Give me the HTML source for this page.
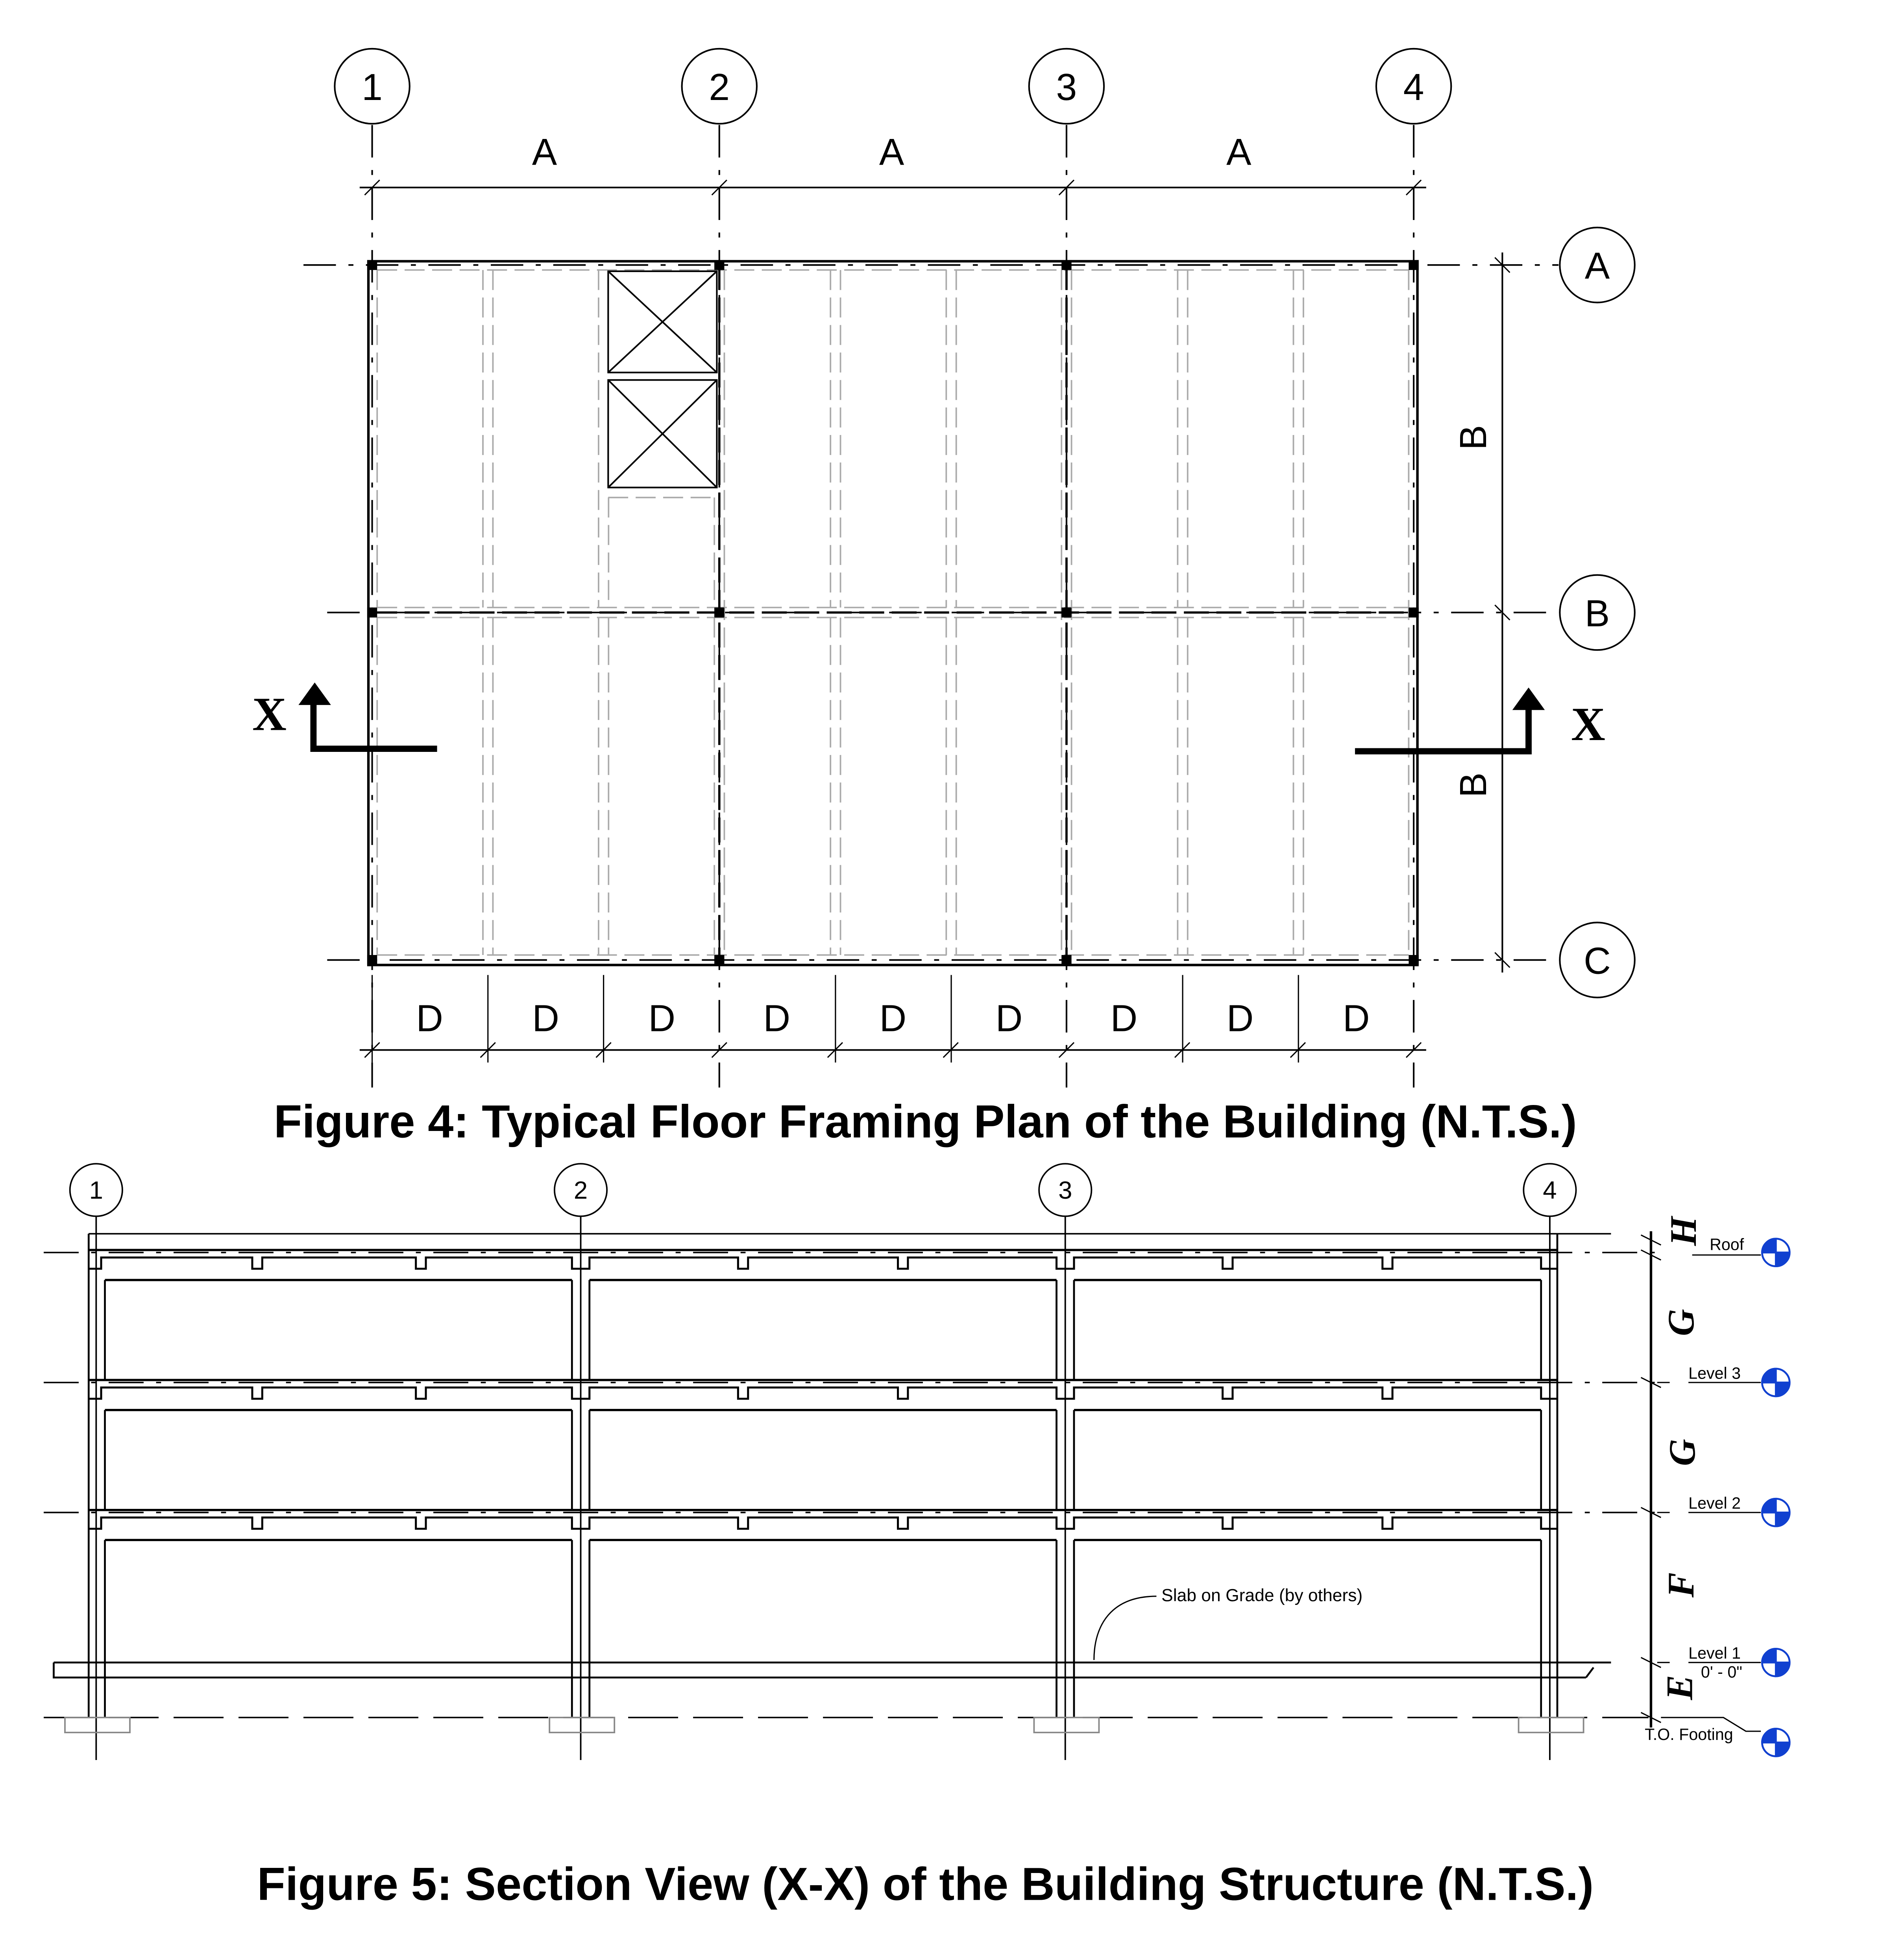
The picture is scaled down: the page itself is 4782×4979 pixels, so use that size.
<!DOCTYPE html>
<html><head><meta charset="utf-8"><style>html,body{margin:0;padding:0;background:#fff}svg{display:block}</style></head>
<body>
<svg xmlns="http://www.w3.org/2000/svg" width="4782" height="4979" viewBox="0 0 1507 1568" preserveAspectRatio="none" font-family="Liberation Sans, sans-serif">
<rect width="1507" height="1568" fill="#fff"/>
<!-- ============ PLAN ============ -->
<g stroke="#000" fill="none" stroke-width="1.3">
 <circle cx="298" cy="69" r="30"/><circle cx="576" cy="69" r="30"/><circle cx="854" cy="69" r="30"/><circle cx="1132" cy="69" r="30"/>
 <circle cx="1279" cy="212" r="30"/><circle cx="1279" cy="490" r="30"/><circle cx="1279" cy="768" r="30"/>
 <g stroke-dasharray="26 10 4 10">
  <line x1="298" y1="100" x2="298" y2="870"/><line x1="576" y1="100" x2="576" y2="870"/>
  <line x1="854" y1="100" x2="854" y2="870"/><line x1="1132" y1="100" x2="1132" y2="870"/>
  <line x1="243" y1="212" x2="1248" y2="212"/><line x1="262" y1="490" x2="1248" y2="490"/><line x1="262" y1="768" x2="1248" y2="768"/>
 </g>
 <line x1="288" y1="150" x2="1142" y2="150"/>
 <g stroke-width="1"><path d="M292 156 L304 144 M570 156 L582 144 M848 156 L860 144 M1126 156 L1138 144"/></g>
 <line x1="1203" y1="202" x2="1203" y2="778"/>
 <path d="M1197 206 L1209 218 M1197 484 L1209 496 M1197 762 L1209 774" stroke-width="1"/>
 <line x1="288" y1="840" x2="1142" y2="840"/>
 <path d="M292 846 L304 834 M384.7 846 L396.7 834 M477.3 846 L489.3 834 M570 846 L582 834 M662.7 846 L674.7 834 M755.3 846 L767.3 834 M848 846 L860 834 M940.7 846 L952.7 834 M1033.3 846 L1045.3 834 M1126 846 L1138 834" stroke-width="1"/>
 <path d="M298 780 V850 M390.7 780 V850 M483.3 780 V850 M669 780 V850 M761.7 780 V850 M947 780 V850 M1039.7 780 V850" stroke-width="1"/>
</g>
<g stroke="#aaa" fill="none" stroke-width="1.2" stroke-dasharray="16 6">
 <path d="M386.7 216 V486 M394.7 216 V486 M386.7 494 V764 M394.7 494 V764"/>
 <path d="M479.3 216 V486 M487.3 398 V486 M479.3 494 V764 M487.3 494 V764"/>
 <path d="M665 216 V486 M673 216 V486 M665 494 V764 M673 494 V764"/>
 <path d="M757.7 216 V486 M765.7 216 V486 M757.7 494 V764 M765.7 494 V764"/>
 <path d="M943 216 V486 M951 216 V486 M943 494 V764 M951 494 V764"/>
 <path d="M1035.7 216 V486 M1043.7 216 V486 M1035.7 494 V764 M1043.7 494 V764"/>
 <path d="M302 216 V486 M302 494 V764 M572 398 V486 M572 494 V764 M580 216 V764 M850 216 V764 M858 216 V764 M1128 216 V764"/>
 <path d="M302 216 H1128 M302 486 H1128 M302 494 H1128 M302 764 H1128 M487 398 H572"/>
</g>
<g stroke="#000" fill="none" stroke-width="1.8">
 <rect x="295" y="209" width="840" height="563" stroke-width="2"/>
 <line x1="298" y1="490" x2="1132" y2="490" stroke-dasharray="20 6"/>
 <line x1="576" y1="212" x2="576" y2="768" stroke-dasharray="20 6"/>
 <line x1="854" y1="212" x2="854" y2="768" stroke-dasharray="20 6"/>
</g>
<g fill="#000">
 <rect x="294" y="208" width="8" height="8"/><rect x="572" y="208" width="8" height="8"/><rect x="850" y="208" width="8" height="8"/><rect x="1128" y="208" width="8" height="8"/>
 <rect x="294" y="486" width="8" height="8"/><rect x="572" y="486" width="8" height="8"/><rect x="850" y="486" width="8" height="8"/><rect x="1128" y="486" width="8" height="8"/>
 <rect x="294" y="764" width="8" height="8"/><rect x="572" y="764" width="8" height="8"/><rect x="850" y="764" width="8" height="8"/><rect x="1128" y="764" width="8" height="8"/>
</g>
<g stroke="#000" fill="#fff" stroke-width="1.3">
 <rect x="487" y="217" width="87" height="81"/><path d="M487 217 L574 298 M574 217 L487 298"/>
 <rect x="487" y="304" width="87" height="86"/><path d="M487 304 L574 390 M574 304 L487 390"/>
</g>
<g stroke="#000" fill="none" stroke-width="5">
 <path d="M350 599 H251 V562"/><path d="M1085 601 H1224 V566"/>
</g>
<path d="M239 564 L252 546 L265 564 Z M1211 568 L1224 550 L1237 568 Z" fill="#000"/>
<g font-family="Liberation Serif, serif" font-weight="bold" font-size="38" fill="#000">
 <text x="202" y="584">X</text><text x="1258" y="592">X</text>
</g>
<g font-size="30" fill="#000" text-anchor="middle">
 <text x="298" y="80">1</text><text x="576" y="80">2</text><text x="854" y="80">3</text><text x="1132" y="80">4</text>
 <text x="1279" y="223">A</text><text x="1279" y="501">B</text><text x="1279" y="779">C</text>
 <text x="436" y="132">A</text><text x="714" y="132">A</text><text x="992" y="132">A</text>
 <text x="344" y="825">D</text><text x="437" y="825">D</text><text x="530" y="825">D</text><text x="622" y="825">D</text><text x="715" y="825">D</text><text x="808" y="825">D</text><text x="900" y="825">D</text><text x="993" y="825">D</text><text x="1086" y="825">D</text>
 <text transform="translate(1190 350) rotate(-90)">B</text><text transform="translate(1190 628) rotate(-90)">B</text>
</g>
<text x="741" y="910" font-size="37" font-weight="bold" text-anchor="middle">Figure 4: Typical Floor Framing Plan of the Building (N.T.S.)</text>

<!-- ============ SECTION ============ -->
<g stroke="#000" fill="none" stroke-width="1.2">
 <circle cx="77" cy="952" r="21"/><circle cx="465" cy="952" r="21"/><circle cx="853" cy="952" r="21"/><circle cx="1241" cy="952" r="21"/>
 <path d="M77 973 V1408 M465 973 V1408 M853 973 V1408 M1241 973 V1408"/>
 <g stroke-dasharray="28 10 4 10"><path d="M35 1002 H1330 M35 1106 H1330 M35 1210 H1330"/></g>
 <path d="M35 1374 H1320" stroke-dasharray="40 12"/>
 <path d="M71 987 H1290 M71 987 V1000 M1247 987 V1000"/>
 <g stroke-width="1.8">
  <path d="M71 1000 H1247 M71 1104 H1247 M71 1208 H1247"/>
  <path d="M84 1024 H458 M472 1024 H846 M860 1024 H1234"/>
  <path d="M84 1128 H458 M472 1128 H846 M860 1128 H1234"/>
  <path d="M84 1232 H458 M472 1232 H846 M860 1232 H1234"/>
 </g>
 <g stroke-width="1.6">
  <path d="M71 1015 H81 V1006 H202 V1015 H210 V1006 H333 V1015 H341 V1006 H458 V1015 H472 V1006 H591 V1015 H599 V1006 H719 V1015 H727 V1006 H846 V1015 H860 V1006 H979 V1015 H987 V1006 H1107 V1015 H1115 V1006 H1234 V1015 H1247"/>
  <path transform="translate(0 104)" d="M71 1015 H81 V1006 H202 V1015 H210 V1006 H333 V1015 H341 V1006 H458 V1015 H472 V1006 H591 V1015 H599 V1006 H719 V1015 H727 V1006 H846 V1015 H860 V1006 H979 V1015 H987 V1006 H1107 V1015 H1115 V1006 H1234 V1015 H1247"/>
  <path transform="translate(0 208)" d="M71 1015 H81 V1006 H202 V1015 H210 V1006 H333 V1015 H341 V1006 H458 V1015 H472 V1006 H591 V1015 H599 V1006 H719 V1015 H727 V1006 H846 V1015 H860 V1006 H979 V1015 H987 V1006 H1107 V1015 H1115 V1006 H1234 V1015 H1247"/>
 </g>
 <g stroke-width="1.5">
  <path d="M71 987 V1374 M84 1024 V1104 M84 1128 V1208 M84 1232 V1374"/>
  <path d="M458 1024 V1104 M458 1128 V1208 M458 1232 V1374 M472 1024 V1104 M472 1128 V1208 M472 1232 V1374"/>
  <path d="M846 1024 V1104 M846 1128 V1208 M846 1232 V1374 M860 1024 V1104 M860 1128 V1208 M860 1232 V1374"/>
  <path d="M1234 1024 V1104 M1234 1128 V1208 M1234 1232 V1374 M1247 987 V1374"/>
 </g>
 <path d="M43 1330 H1290 M50 1342 H1270 M43 1330 V1342 H50 M1270 1342 L1276 1334" stroke-width="1.5"/>
 <g stroke="#888"><rect x="52" y="1374" width="52" height="12"/><rect x="440" y="1374" width="52" height="12"/><rect x="828" y="1374" width="52" height="12"/><rect x="1216" y="1374" width="52" height="12"/></g>
 <path d="M926 1277 C890 1277 876 1300 876 1328" stroke-width="1"/>
 <path d="M1322 985 V1382" stroke-width="2"/>
 <path d="M1314 988 L1330 996 M1314 1000 L1330 1008 M1314 1102 L1330 1110 M1314 1206 L1330 1214 M1314 1326 L1330 1334 M1314 1370 L1330 1378" stroke-width="1"/>
 <path d="M1355 1004 H1410 M1352 1106 H1410 M1352 1210 H1410 M1352 1330 H1410 M1330 1374 H1380 L1398 1385 H1410" stroke-width="1"/>
</g>
<path d="M1327 1106 H1345 M1327 1210 H1345 M1327 1330 H1345" stroke="#000" stroke-dasharray="10 8"/>
<g stroke="#1040d0" stroke-width="1.5">
 <g id="mk"><circle cx="1422" cy="1002" r="11" fill="#fff"/><path d="M1422 1002 V991 A11 11 0 0 0 1411 1002 Z M1422 1002 V1013 A11 11 0 0 0 1433 1002 Z" fill="#1040d0"/></g>
 <use href="#mk" y="104"/><use href="#mk" y="208"/><use href="#mk" y="328"/><use href="#mk" y="392"/>
</g>
<g font-size="13" fill="#000">
 <text x="1369" y="1000">Roof</text><text x="1352" y="1103">Level 3</text><text x="1352" y="1207">Level 2</text>
 <text x="1352" y="1327">Level 1</text><text x="1362" y="1342">0' - 0"</text><text x="1317" y="1392">T.O. Footing</text>
 <text x="930" y="1281" font-size="14">Slab on Grade (by others)</text>
</g>
<g font-size="20" fill="#000" text-anchor="middle">
 <text x="77" y="959">1</text><text x="465" y="959">2</text><text x="853" y="959">3</text><text x="1241" y="959">4</text>
</g>
<g font-family="Liberation Serif, serif" font-style="italic" font-weight="bold" font-size="30" fill="#000" text-anchor="middle">
 <text transform="translate(1358 985) rotate(-90)">H</text>
 <text transform="translate(1356 1058) rotate(-90)">G</text>
 <text transform="translate(1357 1162) rotate(-90)">G</text>
 <text transform="translate(1356 1268) rotate(-90)">F</text>
 <text transform="translate(1355 1350) rotate(-90)">E</text>
</g>
<text x="741" y="1520" font-size="37" font-weight="bold" text-anchor="middle">Figure 5: Section View (X-X) of the Building Structure (N.T.S.)</text>
</svg>
</body></html>
